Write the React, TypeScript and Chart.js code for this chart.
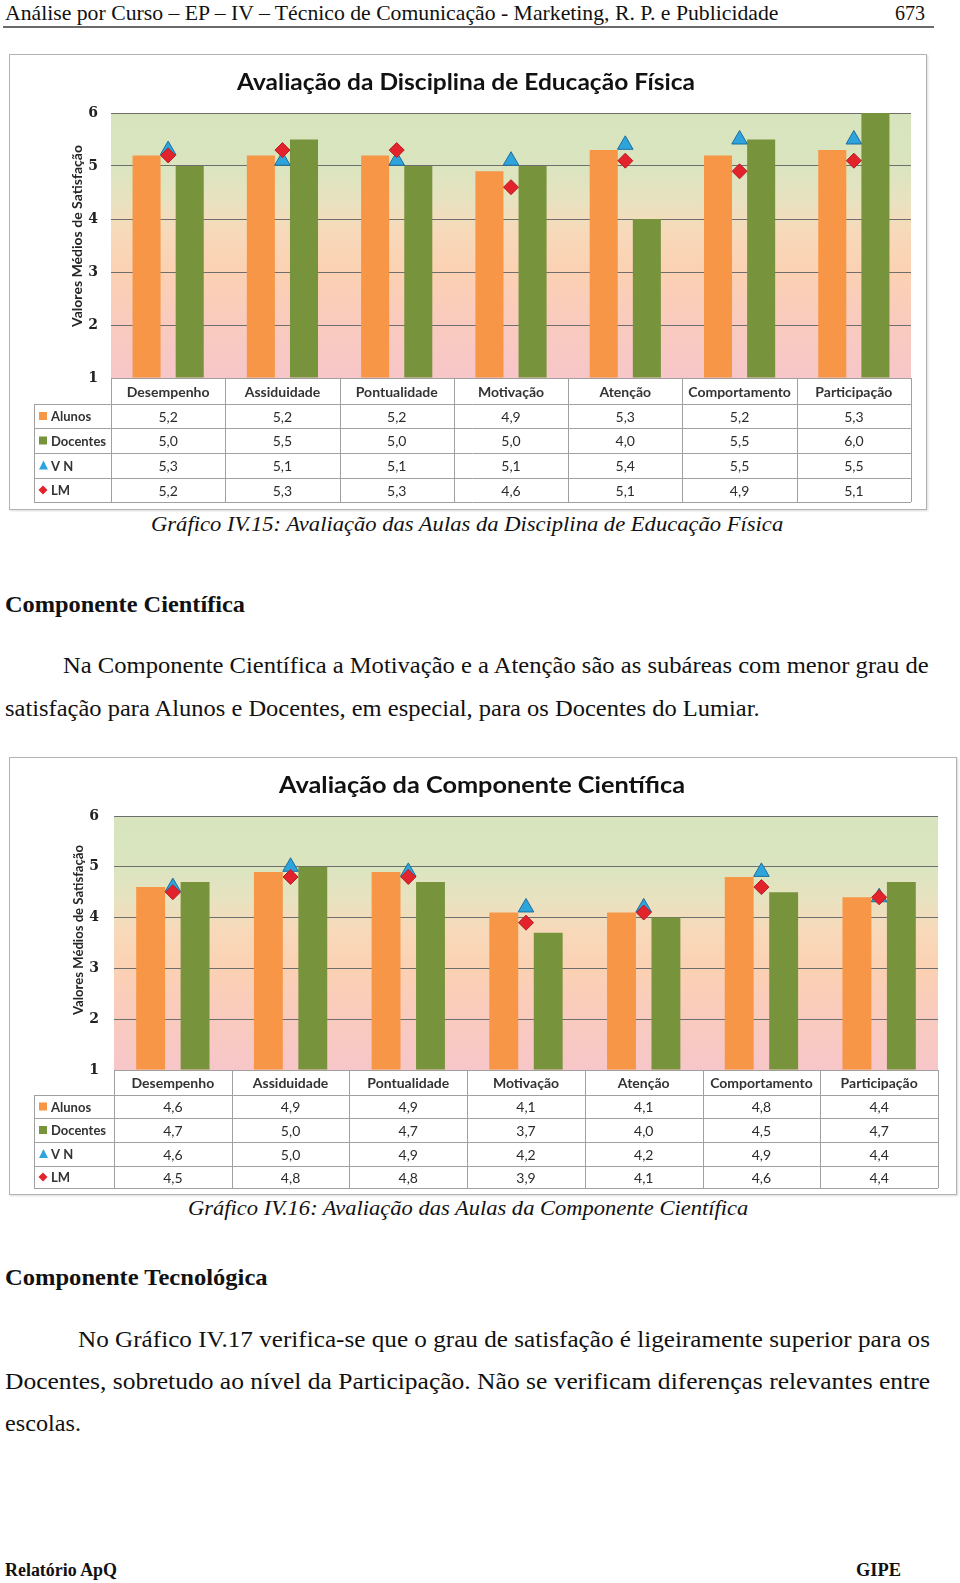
import React, { useEffect, useRef } from 'react';
import { Chart, registerables } from 'chart.js';

Chart.register(...registerables);

// ---------- data ----------
const categories = ['Desempenho', 'Assiduidade', 'Pontualidade', 'Motivação', 'Atenção', 'Comportamento', 'Participação'];
const seriesNames = ['Alunos', 'Docentes', 'V N', 'LM'];
const yMin = 1;
const yMax = 6;

const efAlunos = [5.2, 5.2, 5.2, 4.9, 5.3, 5.2, 5.3];
const efDocentes = [5.0, 5.5, 5.0, 5.0, 4.0, 5.5, 6.0];
const efVN = [5.3, 5.1, 5.1, 5.1, 5.4, 5.5, 5.5];
const efLM = [5.2, 5.3, 5.3, 4.6, 5.1, 4.9, 5.1];

const ccAlunos = [4.6, 4.9, 4.9, 4.1, 4.1, 4.8, 4.4];
const ccDocentes = [4.7, 5.0, 4.7, 3.7, 4.0, 4.5, 4.7];
const ccVN = [4.6, 5.0, 4.9, 4.2, 4.2, 4.9, 4.4];
const ccLM = [4.5, 4.8, 4.8, 3.9, 4.1, 4.6, 4.4];

const title1 = 'Avaliação da Disciplina de Educação Física';
const title2 = 'Avaliação da Componente Científica';
const yTitle = 'Valores Médios de Satisfação';

// ---------- styles ----------
const C_ALUNOS = '#f79646';
const C_DOCENTES = '#77933c';
const C_VN = '#2ea4dc';
const C_VN_B = '#1d6d9e';
const C_LM = '#e3232c';
const C_LM_B = '#b71d25';
const FONT = 'Lato';
const SERIF = '"Liberation Serif", "Times New Roman", serif';

const fmt = (v: number) => v.toFixed(1).replace('.', ',');

function fitText(ctx: CanvasRenderingContext2D, text: string, x: number, y: number, w: number, font: string, color: string, rotate = false) {
  ctx.save();
  ctx.font = font;
  const m = ctx.measureText(text).width;
  const s = w / m;
  ctx.translate(x, y);
  if (rotate) ctx.rotate(-Math.PI / 2);
  ctx.scale(s, 1);
  ctx.textAlign = 'center';
  ctx.textBaseline = 'alphabetic';
  ctx.fillStyle = color;
  ctx.fillText(text, 0, 0);
  ctx.restore();
}

const pagePlugin = {
  id: 'page',
  beforeDraw(chart: any) {
    const { ctx, chartArea: a } = chart;
    const g = ctx.createLinearGradient(0, a.top, 0, a.bottom);
    g.addColorStop(0, '#d7e4bd');
    g.addColorStop(0.2, '#dae5bf');
    g.addColorStop(0.33, '#e8e2c0');
    g.addColorStop(0.45, '#f7d9b9');
    g.addColorStop(0.6, '#fbd1b3');
    g.addColorStop(0.78, '#f9cbbd');
    g.addColorStop(1, '#f7c6c9');
    ctx.save();
    ctx.fillStyle = g;
    ctx.fillRect(a.left, a.top, a.right - a.left, a.bottom - a.top);
    ctx.restore();
  },
  afterDraw(chart: any, _args: any, o: any) {
    const { ctx, chartArea: a } = chart;
    // title
    fitText(ctx, o.title, o.titleX, o.titleY, o.titleW, `bold ${o.titleSize}px ${FONT}`, '#111');
    // y axis title
    fitText(ctx, yTitle, o.yTitleX, o.yTitleY, o.yTitleLen, `bold 13px ${FONT}`, '#262626', true);

    // data table
    const xs = chart.scales.x;
    const c0 = xs.getPixelForValue(0);
    const cw = xs.getPixelForValue(1) - c0;
    const n = categories.length;
    const rows: number[] = [a.bottom, a.bottom + o.headerH];
    o.rowH.forEach((h: number) => rows.push(rows[rows.length - 1] + h));
    const px = (v: number) => Math.round(v) + 0.5;
    ctx.save();
    ctx.strokeStyle = '#a0a0a0';
    ctx.lineWidth = 1;
    ctx.beginPath();
    ctx.moveTo(a.left, px(rows[0]));
    ctx.lineTo(a.right, px(rows[0]));
    for (let r = 1; r < rows.length; r++) {
      ctx.moveTo(o.tableLeft, px(rows[r]));
      ctx.lineTo(a.right, px(rows[r]));
    }
    for (let i = 0; i <= n; i++) {
      const x = px(c0 - cw / 2 + i * cw);
      ctx.moveTo(x, rows[0]);
      ctx.lineTo(x, rows[rows.length - 1]);
    }
    ctx.moveTo(px(o.tableLeft), rows[1]);
    ctx.lineTo(px(o.tableLeft), rows[rows.length - 1]);
    ctx.stroke();

    ctx.textAlign = 'center';
    ctx.textBaseline = 'middle';
    ctx.fillStyle = '#333';
    ctx.font = `bold 14px ${FONT}`;
    categories.forEach((c, i) => {
      ctx.fillText(c, c0 + i * cw, (rows[0] + rows[1]) / 2 + 1);
    });
    const series = [o.alunos, o.docentes, o.vn, o.lm];
    ctx.font = `14px ${FONT}`;
    series.forEach((s: number[], r: number) => {
      const cy = (rows[r + 1] + rows[r + 2]) / 2 + 1;
      s.forEach((v, i) => {
        ctx.fillStyle = '#2b2b2b';
        ctx.fillText(fmt(v), c0 + i * cw, cy);
      });
    });
    // legend column
    ctx.textAlign = 'left';
    ctx.font = `bold 13px ${FONT}`;
    seriesNames.forEach((name, r) => {
      const cy = (rows[r + 1] + rows[r + 2]) / 2;
      const ix = o.tableLeft + 5;
      if (r === 0 || r === 1) {
        ctx.fillStyle = r === 0 ? C_ALUNOS : C_DOCENTES;
        ctx.fillRect(ix, cy - 4, 8, 8);
      } else if (r === 2) {
        ctx.fillStyle = C_VN;
        ctx.beginPath();
        ctx.moveTo(ix + 4.5, cy - 5);
        ctx.lineTo(ix + 9, cy + 4);
        ctx.lineTo(ix, cy + 4);
        ctx.closePath();
        ctx.fill();
      } else {
        ctx.fillStyle = C_LM;
        ctx.beginPath();
        ctx.moveTo(ix + 4, cy - 4.5);
        ctx.lineTo(ix + 8.5, cy);
        ctx.lineTo(ix + 4, cy + 4.5);
        ctx.lineTo(ix - 0.5, cy);
        ctx.closePath();
        ctx.fill();
      }
      ctx.fillStyle = '#333';
      ctx.fillText(name, o.tableLeft + 17, cy + 1);
    });
    ctx.restore();
  },
};

type Cfg = {
  w: number; h: number;
  pad: { left: number; top: number; right: number; bottom: number };
  yWidth: number; tickPad: number;
  title: string; titleX: number; titleY: number; titleW: number; titleSize: number;
  yTitleX: number; yTitleY: number; yTitleLen: number;
  tableLeft: number; headerH: number; rowH: number[];
  alunos: number[]; docentes: number[]; vn: number[]; lm: number[];
};

function SatisfactionChart({ cfg }: { cfg: Cfg }) {
  const ref = useRef<HTMLCanvasElement | null>(null);
  useEffect(() => {
    if (!ref.current) return;
    const chart = new Chart(ref.current, {
      type: 'bar',
      data: {
        labels: categories,
        datasets: [
          {
            type: 'line', label: seriesNames[3], data: cfg.lm, showLine: false, pointStyle: 'rectRot',
            pointRadius: 7.5, pointBackgroundColor: C_LM, pointBorderColor: C_LM_B, pointBorderWidth: 1, order: 0, clip: false,
          } as any,
          {
            type: 'line', label: seriesNames[2], data: cfg.vn, showLine: false, pointStyle: 'triangle',
            pointRadius: 9, pointBackgroundColor: C_VN, pointBorderColor: C_VN_B, pointBorderWidth: 1, order: 1, clip: false,
          } as any,
          {
            label: seriesNames[0], data: cfg.alunos, backgroundColor: C_ALUNOS, base: yMin, order: 2,
            categoryPercentage: 0.755, barPercentage: 0.65,
          } as any,
          {
            label: seriesNames[1], data: cfg.docentes, backgroundColor: C_DOCENTES, base: yMin, order: 2,
            categoryPercentage: 0.755, barPercentage: 0.65,
          } as any,
        ],
      },
      options: {
        animation: false,
        responsive: false,
        maintainAspectRatio: false,
        layout: { padding: cfg.pad, autoPadding: false } as any,
        plugins: {
          legend: { display: false },
          tooltip: { enabled: false },
          title: { display: false },
          page: cfg,
        } as any,
        scales: {
          x: { display: false, offset: true, grid: { display: false } },
          y: {
            min: yMin, max: yMax,
            ticks: { stepSize: 1, padding: cfg.tickPad, color: '#222', font: { family: '"DejaVu Serif", serif', weight: 'bold', size: 14 } },
            grid: { color: '#6e6e6e', drawTicks: false, lineWidth: 1 },
            border: { display: false },
            afterFit: (s: any) => { s.width = cfg.yWidth; },
          } as any,
        },
      },
      plugins: [pagePlugin as any],
    });
    return () => chart.destroy();
  }, [cfg]);
  return <canvas ref={ref} width={cfg.w} height={cfg.h} style={{ display: 'block', width: cfg.w, height: cfg.h }} />;
}

const cfg1: Cfg = {
  w: 916, h: 454,
  pad: { left: 0, top: 58, right: 15, bottom: 131 },
  yWidth: 101, tickPad: 13,
  title: title1, titleX: 456, titleY: 35, titleW: 458, titleSize: 22,
  yTitleX: 72, yTitleY: 181, yTitleLen: 182,
  tableLeft: 24, headerH: 26, rowH: [24, 25, 25, 24],
  alunos: efAlunos, docentes: efDocentes, vn: efVN, lm: efLM,
};

const cfg2: Cfg = {
  w: 946, h: 436,
  pad: { left: 0, top: 58, right: 18, bottom: 124 },
  yWidth: 104, tickPad: 15,
  title: title2, titleX: 472, titleY: 35, titleW: 406, titleSize: 23,
  yTitleX: 73, yTitleY: 172, yTitleLen: 170,
  tableLeft: 24, headerH: 25, rowH: [23, 24, 24, 22],
  alunos: ccAlunos, docentes: ccDocentes, vn: ccVN, lm: ccLM,
};

// ---------- page text ----------
const measureCanvas = typeof document !== 'undefined' ? document.createElement('canvas') : null;
function measure(text: string, font: string) {
  const c = measureCanvas!.getContext('2d')!;
  c.font = font;
  return c.measureText(text).width;
}

type LineSpec = { text: string; left: number; cy: number; size: number; width: number; bold?: boolean; italic?: boolean };

function TextLine({ s }: { s: LineSpec }) {
  const font = `${s.italic ? 'italic ' : ''}${s.bold ? 'bold ' : ''}${s.size}px ${SERIF}`;
  const natural = measure(s.text, font);
  const k = s.width / natural;
  return (
    <div
      style={{
        position: 'absolute', left: s.left, top: s.cy - s.size * 0.5, font, lineHeight: `${s.size}px`,
        whiteSpace: 'pre', color: '#111', transform: `scaleX(${k})`, transformOrigin: 'left center',
      }}
    >
      {s.text}
    </div>
  );
}

const lines: LineSpec[] = [
  { text: 'Análise por Curso – EP – IV – Técnico de Comunicação - Marketing, R. P. e Publicidade', left: 5, cy: 13, size: 21, width: 775 },
  { text: '673', left: 895, cy: 13, size: 21, width: 30 },
  { text: 'Gráfico IV.15: Avaliação das Aulas da Disciplina de Educação Física', left: 151, cy: 524, size: 22, width: 633, italic: true },
  { text: 'Componente Científica', left: 5, cy: 604, size: 23, width: 240, bold: true },
  { text: 'Na Componente Científica a Motivação e a Atenção são as subáreas com menor grau de', left: 63, cy: 665, size: 23, width: 867 },
  { text: 'satisfação para Alunos e Docentes, em especial, para os Docentes do Lumiar.', left: 5, cy: 708, size: 23, width: 756 },
  { text: 'Gráfico IV.16: Avaliação das Aulas da Componente Científica', left: 188, cy: 1208, size: 22, width: 561, italic: true },
  { text: 'Componente Tecnológica', left: 5, cy: 1277, size: 23, width: 263, bold: true },
  { text: 'No Gráfico IV.17 verifica-se que o grau de satisfação é ligeiramente superior para os', left: 78, cy: 1339, size: 23, width: 852 },
  { text: 'Docentes, sobretudo ao nível da Participação. Não se verificam diferenças relevantes entre', left: 5, cy: 1381, size: 23, width: 925 },
  { text: 'escolas.', left: 5, cy: 1423, size: 23, width: 76 },
  { text: 'Relatório ApQ', left: 5, cy: 1570, size: 18, width: 113, bold: true },
  { text: 'GIPE', left: 856, cy: 1570, size: 18, width: 45, bold: true },
];

export default function App() {
  const frame: React.CSSProperties = {
    position: 'absolute', boxSizing: 'border-box', border: '1px solid #b3b3b3', background: '#fff',
    boxShadow: '1px 1px 2px rgba(0,0,0,0.15)',
  };
  return (
    <div style={{ position: 'absolute', left: 0, top: 0, width: 960, height: 1583, background: '#fff', overflow: 'hidden' }}>
      {lines.map((s, i) => <TextLine key={i} s={s} />)}
      <div style={{ position: 'absolute', left: 3, top: 26, width: 931, height: 2, background: '#6b6b6b' }} />
      <div style={{ ...frame, left: 9, top: 54, width: 918, height: 456 }}>
        <SatisfactionChart cfg={cfg1} />
      </div>
      <div style={{ ...frame, left: 9, top: 757, width: 948, height: 438 }}>
        <SatisfactionChart cfg={cfg2} />
      </div>
    </div>
  );
}
